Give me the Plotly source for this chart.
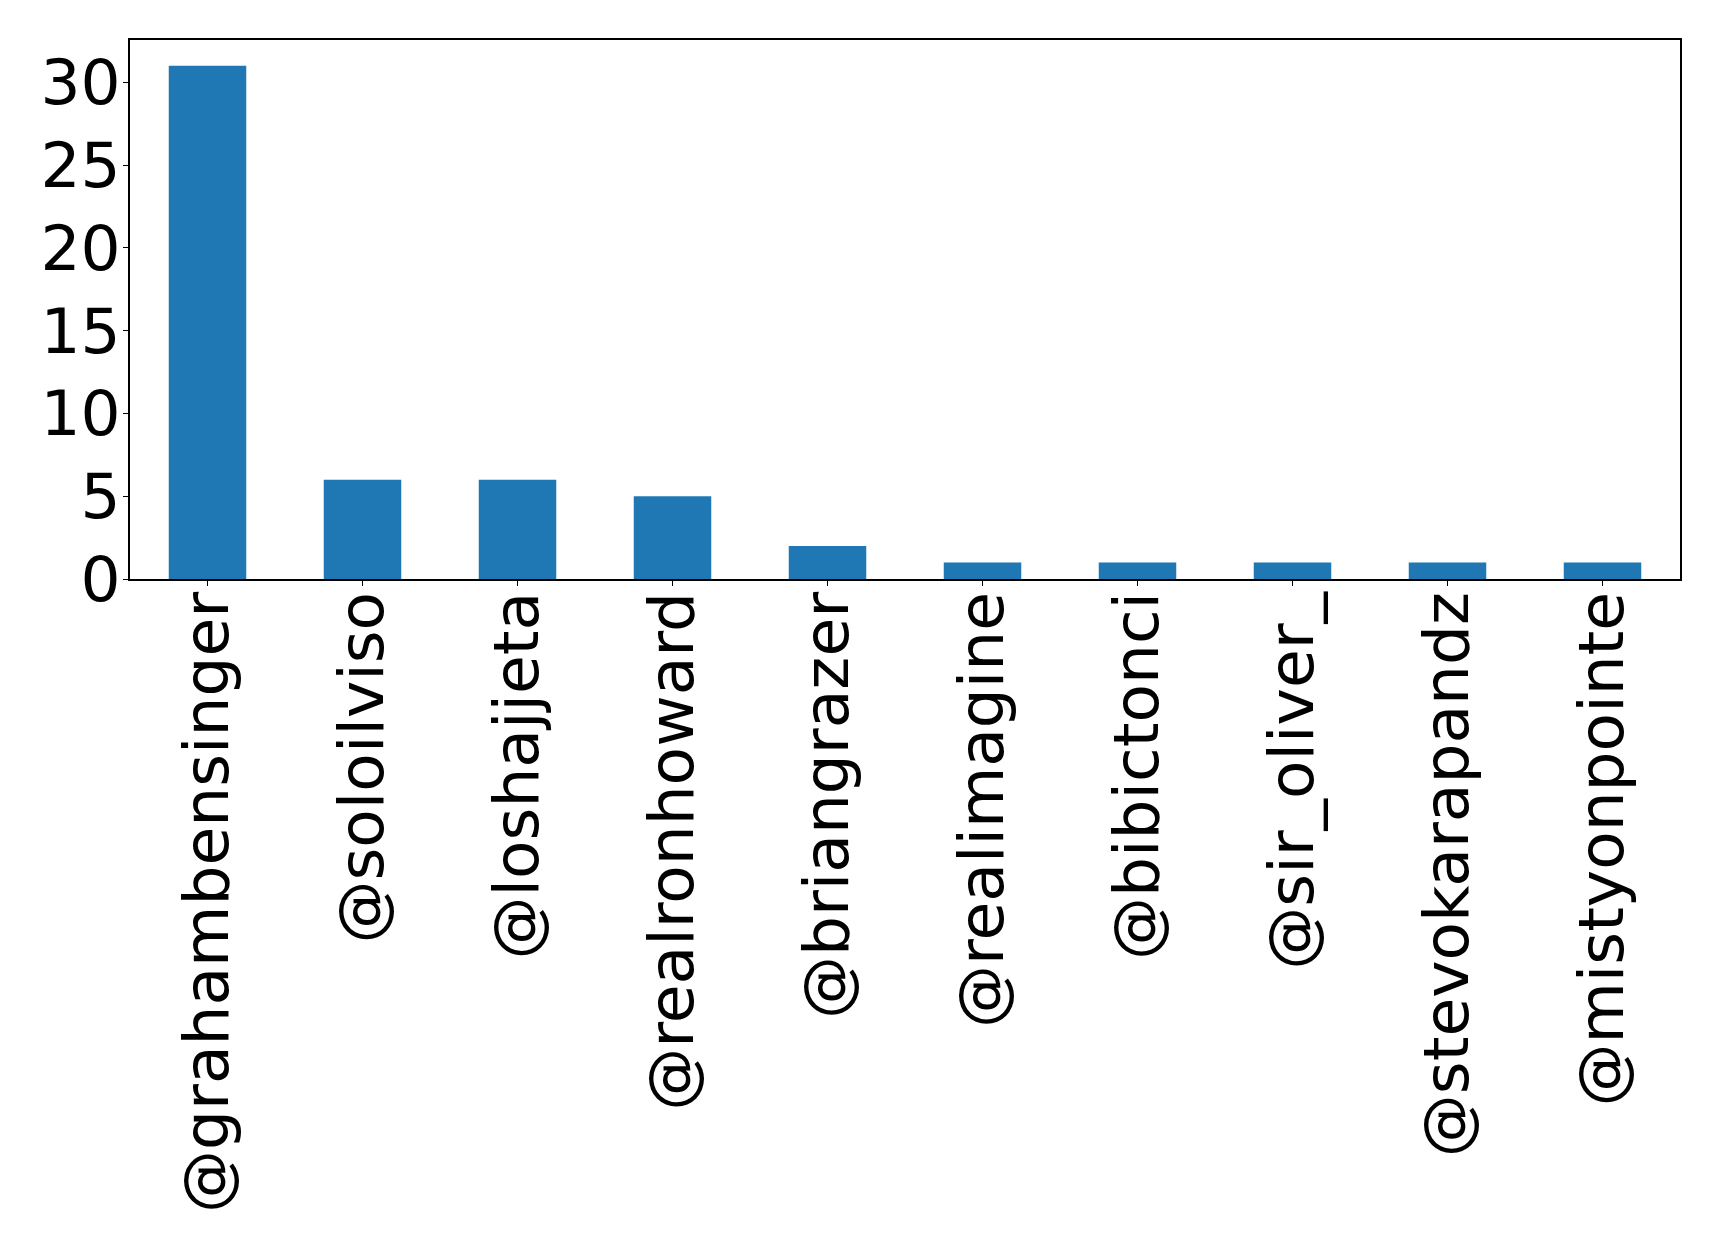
import plotly.graph_objects as go

categories = ["@grahambensinger", "@soloilviso", "@loshajjeta", "@realronhoward",
              "@briangrazer", "@realimagine", "@bibictonci", "@sir_oliver_",
              "@stevokarapandz", "@mistyonpointe"]
values = [31, 6, 6, 5, 2, 1, 1, 1, 1, 1]
y_ticks = [0, 5, 10, 15, 20, 25, 30]

fig = go.Figure(go.Bar(x=list(range(len(categories))), y=values,
                       marker=dict(color="#1f77b4", line=dict(width=0)),
                       width=0.5))

font = dict(family="DejaVu Sans", size=63, color="black")
fig.update_layout(
    width=1719, height=1244,
    margin=dict(l=130, r=39, t=40, b=665),
    paper_bgcolor="white", plot_bgcolor="white",
    showlegend=False,
    font=font,
)
fig.update_xaxes(range=[-0.5, 9.5], tickmode="array", tickvals=list(range(len(categories))),
                 ticktext=categories, tickangle=-90, showline=True, linecolor="black",
                 linewidth=1.5, mirror=True, ticks="outside", ticklen=5, tickcolor="black",
                 showgrid=False, zeroline=False, tickfont=font, ticklabelstandoff=-19)
fig.update_yaxes(range=[0, 32.55], tickmode="array", tickvals=y_ticks,
                 showline=True, linecolor="black", linewidth=1.5, mirror=True,
                 ticks="outside", ticklen=5, tickcolor="black", showgrid=False,
                 zeroline=False, tickfont=font, ticklabelstandoff=-10)

fig.write_html("out.html")
